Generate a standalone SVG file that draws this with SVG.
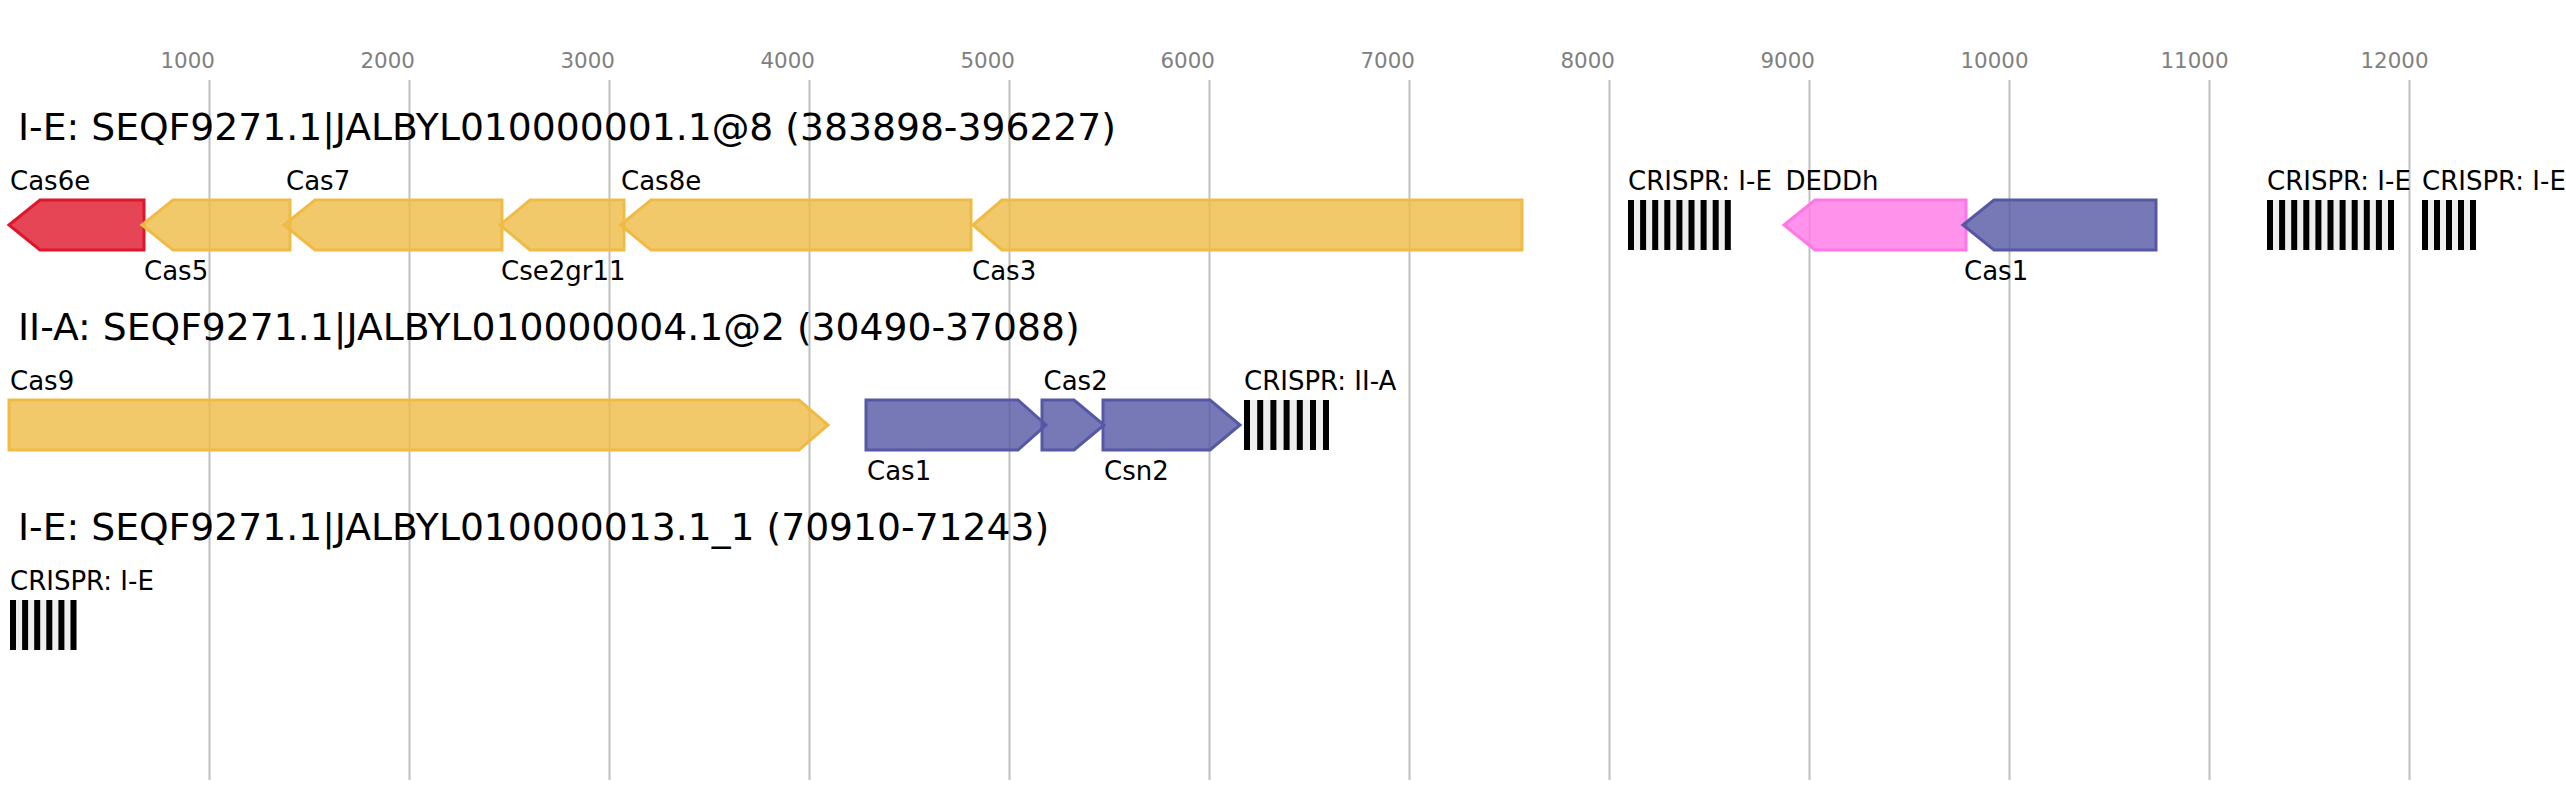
<svg xmlns="http://www.w3.org/2000/svg" width="2566" height="800" viewBox="0 0 2566 800">
<style>
text{font-family:"DejaVu Sans","Liberation Sans",sans-serif}
.ax{font-size:21.4px;fill:#808080}
.grid{stroke:#c0c0c0;stroke-width:2}
.title{font-size:37.7px;fill:#000}
.lbl{font-size:26px;fill:#000}
.g{stroke-width:3}
.yel{fill:#efbb45;fill-opacity:0.8;stroke:#efbb45}
.red{fill:#e0162b;fill-opacity:0.8;stroke:#e0162b}
.blu{fill:#5558a5;fill-opacity:0.8;stroke:#5558a5}
.pnk{fill:#ff77e6;fill-opacity:0.8;stroke:#ff77e6}
.sp{fill:#eeeeee}
.rp{fill:#000}
</style>
<rect width="2566" height="800" fill="#fff"/>
<g id="axis">
<line class="grid" x1="209.5" y1="80" x2="209.5" y2="780"/>
<line class="grid" x1="409.5" y1="80" x2="409.5" y2="780"/>
<line class="grid" x1="609.5" y1="80" x2="609.5" y2="780"/>
<line class="grid" x1="809.5" y1="80" x2="809.5" y2="780"/>
<line class="grid" x1="1009.5" y1="80" x2="1009.5" y2="780"/>
<line class="grid" x1="1209.5" y1="80" x2="1209.5" y2="780"/>
<line class="grid" x1="1409.5" y1="80" x2="1409.5" y2="780"/>
<line class="grid" x1="1609.5" y1="80" x2="1609.5" y2="780"/>
<line class="grid" x1="1809.5" y1="80" x2="1809.5" y2="780"/>
<line class="grid" x1="2009.5" y1="80" x2="2009.5" y2="780"/>
<line class="grid" x1="2209.5" y1="80" x2="2209.5" y2="780"/>
<line class="grid" x1="2409.5" y1="80" x2="2409.5" y2="780"/>
<text class="ax" x="160.5" y="68">1000</text>
<text class="ax" x="360.5" y="68">2000</text>
<text class="ax" x="560.5" y="68">3000</text>
<text class="ax" x="760.5" y="68">4000</text>
<text class="ax" x="960.5" y="68">5000</text>
<text class="ax" x="1160.5" y="68">6000</text>
<text class="ax" x="1360.5" y="68">7000</text>
<text class="ax" x="1560.5" y="68">8000</text>
<text class="ax" x="1760.5" y="68">9000</text>
<text class="ax" x="1960.5" y="68">10000</text>
<text class="ax" x="2160.5" y="68">11000</text>
<text class="ax" x="2360.5" y="68">12000</text>
</g>
<g id="titles">
<text class="title" x="18" y="140">I-E: SEQF9271.1|JALBYL010000001.1@8 (383898-396227)</text>
<text class="title" x="18" y="340">II-A: SEQF9271.1|JALBYL010000004.1@2 (30490-37088)</text>
<text class="title" x="18" y="540">I-E: SEQF9271.1|JALBYL010000013.1_1 (70910-71243)</text>
</g>
<g id="connectors"></g>
<g id="row1">
<g id="cas6e"><path class="g red" d="M9,225 L40,200 L144,200 L144,250 L40,250 Z"/><text class="lbl" x="10" y="190">Cas6e</text></g>
<g id="cas5"><path class="g yel" d="M142,225 L173,200 L290,200 L290,250 L173,250 Z"/><text class="lbl" x="144" y="280">Cas5</text></g>
<g id="cas7"><path class="g yel" d="M284,225 L315,200 L502,200 L502,250 L315,250 Z"/><text class="lbl" x="286" y="190">Cas7</text></g>
<g id="cse2gr11"><path class="g yel" d="M500,225 L530,200 L624,200 L624,250 L530,250 Z"/><text class="lbl" x="501" y="280">Cse2gr11</text></g>
<g id="cas8e"><path class="g yel" d="M620.5,225 L651,200 L971,200 L971,250 L651,250 Z"/><text class="lbl" x="621" y="190">Cas8e</text></g>
<g id="cas3"><path class="g yel" d="M973,225 L1002,200 L1522,200 L1522,250 L1002,250 Z"/><text class="lbl" x="972" y="280">Cas3</text></g>
<g id="crispr1a">
<rect class="sp" x="1628" y="200" width="103" height="50"/>
<rect class="rp" x="1628" y="200" width="6" height="50"/><rect class="rp" x="1640.1" y="200" width="6" height="50"/><rect class="rp" x="1652.2" y="200" width="6" height="50"/><rect class="rp" x="1664.3" y="200" width="6" height="50"/><rect class="rp" x="1676.4" y="200" width="6" height="50"/><rect class="rp" x="1688.5" y="200" width="6" height="50"/><rect class="rp" x="1700.6" y="200" width="6" height="50"/><rect class="rp" x="1712.7" y="200" width="6" height="50"/><rect class="rp" x="1724.8" y="200" width="6" height="50"/>
<text class="lbl" x="1628" y="190">CRISPR: I-E</text></g>
<g id="deddh"><path class="g pnk" d="M1784,225 L1815,200 L1966,200 L1966,250 L1815,250 Z"/><text class="lbl" x="1785.5" y="190">DEDDh</text></g>
<g id="cas1a"><path class="g blu" d="M1963,225 L1994,200 L2156,200 L2156,250 L1994,250 Z"/><text class="lbl" x="1964" y="280">Cas1</text></g>
<g id="crispr1b">
<rect class="sp" x="2267" y="200" width="127" height="50"/>
<rect class="rp" x="2267" y="200" width="6" height="50"/><rect class="rp" x="2279.1" y="200" width="6" height="50"/><rect class="rp" x="2291.2" y="200" width="6" height="50"/><rect class="rp" x="2303.3" y="200" width="6" height="50"/><rect class="rp" x="2315.4" y="200" width="6" height="50"/><rect class="rp" x="2327.5" y="200" width="6" height="50"/><rect class="rp" x="2339.6" y="200" width="6" height="50"/><rect class="rp" x="2351.7" y="200" width="6" height="50"/><rect class="rp" x="2363.8" y="200" width="6" height="50"/><rect class="rp" x="2375.9" y="200" width="6" height="50"/><rect class="rp" x="2388" y="200" width="6" height="50"/>
<text class="lbl" x="2267" y="190">CRISPR: I-E</text></g>
<g id="crispr1c">
<rect class="sp" x="2422" y="200" width="54" height="50"/>
<rect class="rp" x="2422" y="200" width="6" height="50"/><rect class="rp" x="2434" y="200" width="6" height="50"/><rect class="rp" x="2446" y="200" width="6" height="50"/><rect class="rp" x="2458" y="200" width="6" height="50"/><rect class="rp" x="2470" y="200" width="6" height="50"/>
<text class="lbl" x="2422" y="190">CRISPR: I-E</text></g>
</g>
<g id="row2">
<g id="cas9"><path class="g yel" d="M9,400 L799,400 L828,425 L799,450 L9,450 Z"/><text class="lbl" x="10" y="390">Cas9</text></g>
<g id="cas1b"><path class="g blu" d="M866,400 L1018,400 L1046,425 L1018,450 L866,450 Z"/><text class="lbl" x="867" y="480">Cas1</text></g>
<g id="cas2"><path class="g blu" d="M1042,400 L1074,400 L1104,425 L1074,450 L1042,450 Z"/><text class="lbl" x="1043.5" y="390">Cas2</text></g>
<g id="csn2"><path class="g blu" d="M1103,400 L1210,400 L1240,425 L1210,450 L1103,450 Z"/><text class="lbl" x="1104" y="480">Csn2</text></g>
<g id="crispr2">
<rect class="sp" x="1244" y="400" width="85" height="50"/>
<rect class="rp" x="1244" y="400" width="6" height="50"/><rect class="rp" x="1257.2" y="400" width="6" height="50"/><rect class="rp" x="1270.4" y="400" width="6" height="50"/><rect class="rp" x="1283.6" y="400" width="6" height="50"/><rect class="rp" x="1296.8" y="400" width="6" height="50"/><rect class="rp" x="1310" y="400" width="6" height="50"/><rect class="rp" x="1323" y="400" width="6" height="50"/>
<text class="lbl" x="1244" y="390">CRISPR: II-A</text></g>
</g>
<g id="row3">
<g id="crispr3">
<rect class="sp" x="10" y="600" width="66.5" height="50"/>
<rect class="rp" x="10" y="600" width="6" height="50"/><rect class="rp" x="22.1" y="600" width="6" height="50"/><rect class="rp" x="34.2" y="600" width="6" height="50"/><rect class="rp" x="46.3" y="600" width="6" height="50"/><rect class="rp" x="58.4" y="600" width="6" height="50"/><rect class="rp" x="70.5" y="600" width="6" height="50"/>
<text class="lbl" x="10" y="590">CRISPR: I-E</text></g>
</g>
</svg>
